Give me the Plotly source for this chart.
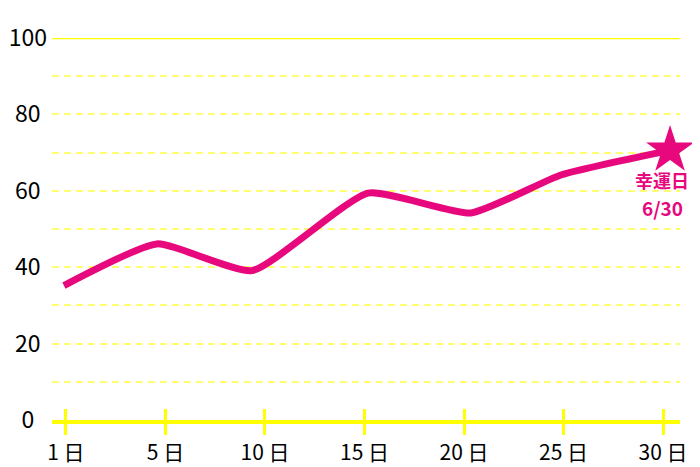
import plotly.graph_objects as go

# tick slots on the x axis and their labels
tick_slots = [0, 1, 2, 3, 4, 5, 6]
tick_labels = ["1 日", "5 日", "10 日", "15 日", "20 日", "25 日", "30 日"]

# line data (x in tick-slot units, y values)
point_x = [-0.02, 0.915, 1.87, 3.035, 4.07, 4.98, 6.07]
point_y = [35.2, 46.1, 39.1, 59.4, 54.2, 64.2, 70.6]

y_ticks = [0, 10, 20, 30, 40, 50, 60, 70, 80, 90, 100]
y_labels = ["0\u2007", "", "20\u2008", "", "40\u2008", "", "60\u2008", "", "80\u2008", "", "100"]

lucky_title = "幸運日"
lucky_date = "6/30"

PINK = "#e8087e"
YELLOW = "#ffff00"
FONT = "Noto Sans CJK JP"

fig = go.Figure()
fig.add_trace(go.Scatter(
    x=point_x, y=point_y, mode="lines",
    line=dict(color=PINK, width=7, shape="spline", smoothing=0.5),
    hoverinfo="skip", showlegend=False, cliponaxis=False,
))
fig.add_trace(go.Scatter(
    x=[point_x[-1]], y=[point_y[-1]], mode="markers",
    marker=dict(symbol="star", size=36, color=PINK, line=dict(width=0)),
    hoverinfo="skip", showlegend=False, cliponaxis=False,
))
# invisible trace for the overlay axis (inside ticks)
fig.add_trace(go.Scatter(x=[tick_slots[0]], y=[0], xaxis="x2", mode="markers",
                         marker=dict(opacity=0), hoverinfo="skip", showlegend=False))

fig.add_annotation(x=point_x[-1], y=point_y[-1], xref="x", yref="y", text=lucky_title,
                   showarrow=False, xanchor="center", yanchor="middle",
                   xshift=-8, yshift=-30, borderpad=0,
                   font=dict(family=FONT, size=18, color=PINK, weight="bold"))
fig.add_annotation(x=point_x[-1], y=point_y[-1], xref="x", yref="y", text=lucky_date,
                   showarrow=False, xanchor="center", yanchor="middle",
                   xshift=-8, yshift=-57, borderpad=0,
                   font=dict(family=FONT, size=19, color=PINK, weight="bold"))

fig.add_shape(type="line", xref="paper", yref="y", x0=0, x1=1, y0=100, y1=100,
              line=dict(color=YELLOW, width=2.5), layer="below")

xr = [-0.14, 6.17]
fig.update_layout(
    width=692, height=459,
    margin=dict(l=44, r=20, t=30, b=47, autoexpand=False),
    paper_bgcolor="white", plot_bgcolor="white",
    font=dict(family=FONT, size=22, color="black"),
    xaxis=dict(range=xr, tickvals=tick_slots, ticktext=tick_labels, automargin=False,
               showgrid=False, zeroline=False,
               showline=True, linecolor=YELLOW, linewidth=4,
               ticks="outside", ticklen=11, tickwidth=3, tickcolor=YELLOW,
               ticklabelstandoff=0, tickfont=dict(size=21)),
    xaxis2=dict(range=xr, overlaying="x", anchor="y", side="bottom", automargin=False,
                tickvals=tick_slots, showticklabels=False,
                showgrid=False, zeroline=False, showline=False,
                ticks="inside", ticklen=11, tickwidth=3, tickcolor=YELLOW),
    yaxis=dict(range=[0, 100], tickvals=y_ticks, ticktext=y_labels, automargin=False,
               showgrid=True, gridcolor="#ffff70", gridwidth=1.5, griddash="7px,5px",
               zeroline=False, showline=False, ticks="", ticklabelstandoff=4,
               tickfont=dict(size=23)),
)
fig.write_html("out.html")
